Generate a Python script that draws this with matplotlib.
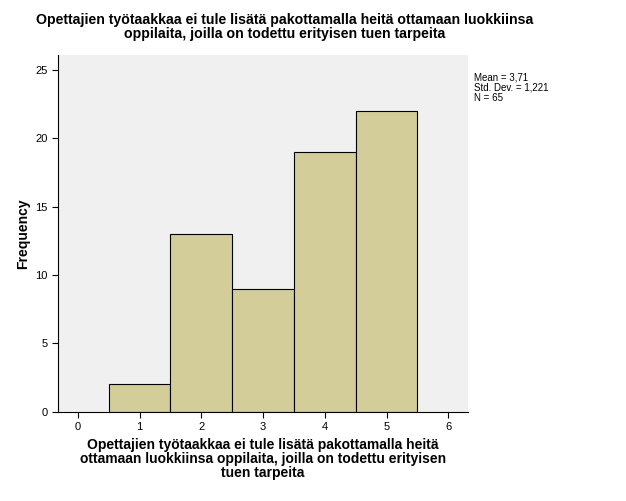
import matplotlib.pyplot as plt

arvot = [1, 2, 3, 4, 5]
frekvenssit = [2, 13, 9, 19, 22]
x_tikit = [0, 1, 2, 3, 4, 5, 6]
y_tikit = [0, 5, 10, 15, 20, 25]
otsikko = ("Opettajien työtaakkaa ei tule lisätä pakottamalla heitä ottamaan luokkiinsa\n"
           "oppilaita, joilla on todettu erityisen tuen tarpeita")
x_otsikko = ("Opettajien työtaakkaa ei tule lisätä pakottamalla heitä\n"
             "ottamaan luokkiinsa oppilaita, joilla on todettu erityisen\n"
             "tuen tarpeita")
tilastot = "Mean = 3,71\nStd. Dev. = 1,221\nN = 65"

plt.rcParams["font.family"] = ["Liberation Sans", "DejaVu Sans"]

fig = plt.figure(figsize=(6.26, 5.01), dpi=100)
ax = fig.add_axes([0.0927, 0.178, 0.655, 0.712])
ax.set_facecolor("#f0f0f0")
ax.bar(arvot, frekvenssit, width=1.0, color="#d3ce99", edgecolor="black", linewidth=0.8)
ax.set_xlim(-0.32, 6.32)
ax.set_ylim(0, 26.1)
ax.set_xticks(x_tikit)
ax.set_yticks(y_tikit)
ax.tick_params(labelsize=8, length=4)
for s in ["top", "right"]:
    ax.spines[s].set_visible(False)
ax.set_ylabel("Frequency", fontsize=10, fontweight="bold")
ax.set_xlabel(x_otsikko, fontsize=10, fontweight="bold", linespacing=1.0)
fig.text(0.455, 0.975, otsikko, ha="center", va="top", fontsize=10.2,
         fontweight="bold", linespacing=1.0)
fig.text(0.757, 0.855, tilastot, ha="left", va="top", fontsize=7, linespacing=1.0)

fig.savefig("out.png", dpi=100)
